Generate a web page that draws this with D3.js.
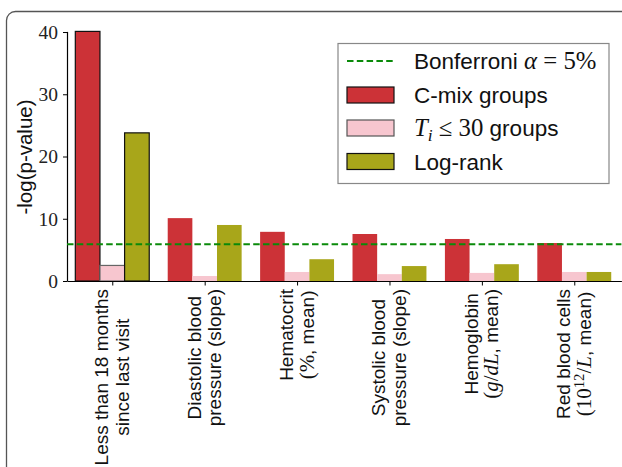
<!DOCTYPE html>
<html>
<head>
<meta charset="utf-8">
<script src="https://cdn.jsdelivr.net/npm/d3@7"></script>
<style>
  body { margin: 0; background: #fff; }
  svg { display: block; }
  .sans { font-family: "Liberation Sans", Arial, sans-serif; }
  .serif { font-family: "Liberation Serif", "DejaVu Serif", serif; }
</style>
</head>
<body>
<svg id="chart" width="622" height="467"></svg>
<script>
// data
var categories = [
  "Less than 18 months\nsince last visit",
  "Diastolic blood\npressure (slope)",
  "Hematocrit\n$(\\%$, mean)",
  "Systolic blood\npressure (slope)",
  "Hemoglobin\n$(g/dL$, mean)",
  "Red blood cells\n$(10^{12}/L$, mean)"
];
var cmix    = [40.1, 10.1, 7.9, 7.55, 6.75, 6.1];
var tiGroups = [2.5, 0.8, 1.45, 1.1, 1.3, 1.45];
var logrank = [23.8, 9.0, 3.5, 2.4, 2.7, 1.45];
var bonferroni = 5.9;
var yTicks = [0, 10, 20, 30, 40];
var seriesNames = ["C-mix groups", "$T_i \\leq 30$ groups", "Log-rank"];
var lineName = "Bonferroni $\\alpha = 5\\%$";

var series = [cmix, tiGroups, logrank];
var colors = ["#cc3237", "#f7c6cf", "#a8a61a"];
var edgeColors = ["#111", "#666", "#111"];
var highlighted = 0; // first group drawn with edges

var svg = d3.select("#chart");

// rounded frame around the figure
svg.append("rect")
  .attr("x", 6.5).attr("y", 11.5)
  .attr("width", 660).attr("height", 520)
  .attr("rx", 9)
  .attr("fill", "none")
  .attr("stroke", "#555")
  .attr("stroke-width", 1.3);

var x = d3.scaleLinear().domain([-0.49, 5.51]).range([67, 621.4]);
var y = d3.scaleLinear().domain([0, 40.1]).range([281, 31.4]);
var bw = 0.8 / 3;

// small latex-ish text builder: $...$ is math (serif, letters italic)
function addRich(textSel, str) {
  var parts = str.split("$");
  var pendingDy = null;
  function span(cls, txt) {
    var s = textSel.append("tspan").attr("class", cls).text(txt);
    if (cls == "serif") s.style("font-size", "1.1em");
    if (pendingDy) { s.attr("dy", pendingDy); pendingDy = null; }
    return s;
  }
  parts.forEach(function(p, i) {
    if (!p) return;
    if (i % 2 == 0) { span("sans", p); return; }
    p = p.replace(/\\alpha/g, "α").replace(/\\leq/g, "≤").replace(/\\%/g, "%").replace(/ /g, "");
    var re = /(\^\{[^}]*\}|_\{[^}]*\}|_.|[A-Za-zα]+|[=≤]|[^A-Za-zα^_=≤]+)/g, m;
    while ((m = re.exec(p)) !== null) {
      var tok = m[0];
      if (tok[0] == "^" || tok[0] == "_") {
        var inner = tok.replace(/^[\^_]\{?/, "").replace(/\}$/, "");
        var up = tok[0] == "^";
        span("serif", inner)
          .style("font-size", "0.78em")
          .style("font-style", /[A-Za-z]/.test(inner) ? "italic" : "normal")
          .attr("dy", up ? "-0.45em" : "0.3em");
        pendingDy = up ? "0.35em" : "-0.23em";
      } else if (tok == "=" || tok == "≤") {
        span("serif", " " + tok + " ");
      } else {
        span("serif", tok).style("font-style", /[A-Za-zα]/.test(tok) ? "italic" : "normal");
      }
    }
  });
}

// bars
series.forEach(function(vals, k) {
  svg.append("g").selectAll("rect")
    .data(vals)
    .enter().append("rect")
      .attr("x", function(d, i) { return x(i + (k - 1) * bw - bw / 2); })
      .attr("width", x(bw) - x(0))
      .attr("y", function(d) { return y(d); })
      .attr("height", function(d) { return y(0) - y(d); })
      .attr("fill", colors[k])
      .attr("stroke", function(d, i) { return i == highlighted ? edgeColors[k] : "none"; })
      .attr("stroke-width", 1.2);
});

// y axis
var yAxis = svg.append("g")
  .attr("transform", "translate(67,0)")
  .call(d3.axisLeft(y).tickValues(yTicks).tickSize(4).tickSizeOuter(0).tickPadding(5));
yAxis.selectAll("text").attr("class", "serif").style("font-size", "19.5px").attr("fill", "#222");
yAxis.select(".domain").attr("stroke-width", 1.2);

// x axis
var xAxis = svg.append("g")
  .attr("transform", "translate(0,281)")
  .call(d3.axisBottom(x).tickValues(d3.range(categories.length)).tickSize(4.5).tickSizeOuter(0).tickFormat(""));
xAxis.select(".domain").attr("stroke-width", 1.2);

// rotated category labels, lines centred on each other
categories.forEach(function(c, i) {
  var g = svg.append("g").attr("transform", "translate(" + x(i) + ",289) rotate(-90)");
  var lines = c.split("\n");
  var texts = lines.map(function(l, j) {
    var t = g.append("text").attr("y", -4 + j * 20.5).style("font-size", "19px").attr("fill", "#111");
    addRich(t, l);
    return t;
  });
  var L = d3.max(texts, function(t) { return t.node().getComputedTextLength(); });
  texts.forEach(function(t) { t.attr("x", -L / 2).attr("text-anchor", "middle"); });
});

// y label
svg.append("text")
  .attr("class", "sans")
  .attr("transform", "translate(32,157) rotate(-90)")
  .attr("text-anchor", "middle")
  .style("font-size", "20.5px")
  .attr("fill", "#111")
  .text("-log(p-value)");

// bonferroni threshold
svg.append("line")
  .attr("x1", x.range()[0]).attr("x2", x.range()[1])
  .attr("y1", y(bonferroni)).attr("y2", y(bonferroni))
  .attr("stroke", "#0a8a0a")
  .attr("stroke-width", 2)
  .attr("stroke-dasharray", "6.5,3.3");

// legend
var leg = svg.append("g").attr("transform", "translate(338,43.5)");
leg.append("rect")
  .attr("width", 271).attr("height", 140)
  .attr("fill", "#fff")
  .attr("stroke", "#888")
  .attr("stroke-width", 1.2);
var rowY = [17.5, 51.5, 84.5, 118];
leg.append("line")
  .attr("x1", 9).attr("x2", 56).attr("y1", rowY[0]).attr("y2", rowY[0])
  .attr("stroke", "#0a8a0a").attr("stroke-width", 2).attr("stroke-dasharray", "6.5,3.3");
var lt = leg.append("text").attr("x", 76).attr("y", rowY[0] + 8).style("font-size", "22.5px").attr("fill", "#111");
addRich(lt, lineName);
seriesNames.forEach(function(n, k) {
  leg.append("rect")
    .attr("x", 9).attr("y", rowY[k + 1] - 8)
    .attr("width", 47).attr("height", 16)
    .attr("fill", colors[k])
    .attr("stroke", k == 1 ? "#555" : "#111")
    .attr("stroke-width", 1.2);
  var t = leg.append("text").attr("x", 76).attr("y", rowY[k + 1] + 8).style("font-size", "22.5px").attr("fill", "#111");
  addRich(t, n);
});
</script>
</body>
</html>
